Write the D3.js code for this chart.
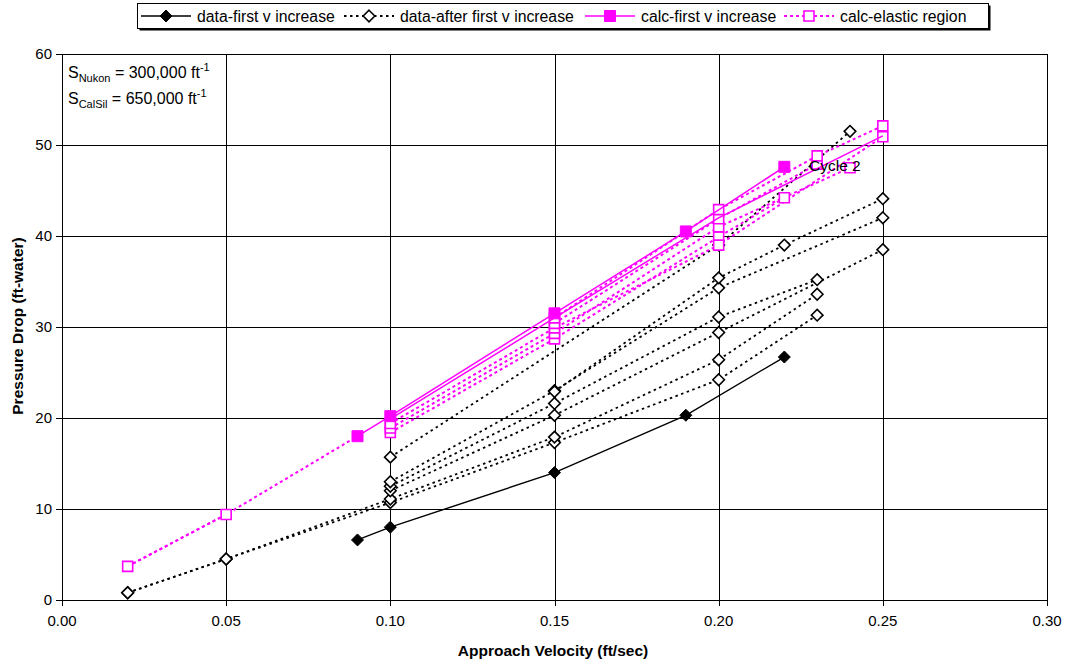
<!DOCTYPE html>
<html>
<head>
<meta charset="utf-8">
<script src="https://cdn.jsdelivr.net/npm/d3@7"></script>
<style>
  body { margin: 0; background: #fff; }
  svg text { font-family: "Liberation Sans", Arial, sans-serif; fill: #000; }
  .grid line { stroke: #000; stroke-width: 1; shape-rendering: crispEdges; }
  .tick-label { font-size: 15px; }
  .axis-title { font-size: 15.5px; font-weight: bold; }
  .legend-text { font-size: 15.8px; }
</style>
</head>
<body>
<svg id="chart" width="1067" height="666"></svg>
<script>
// axis ticks
var xTicks = [0, 0.05, 0.10, 0.15, 0.20, 0.25, 0.30];
var yTicks = [0, 10, 20, 30, 40, 50, 60];

// data-first v increase
var dataFirst = [[0.09, 6.6], [0.10, 8.0], [0.15, 14.0], [0.19, 20.3], [0.22, 26.7]];

// data-after first v increase (one entry per sweep)
var dataAfter = [
  [[0.02, 0.8], [0.05, 4.5], [0.10, 10.7], [0.15, 17.3], [0.20, 24.2], [0.23, 31.3]],
  [[0.02, 0.8], [0.05, 4.5], [0.10, 11.1], [0.15, 17.9], [0.20, 26.4], [0.23, 33.6]],
  [[0.10, 12.0], [0.15, 20.3], [0.20, 29.4], [0.25, 38.5]],
  [[0.10, 12.5], [0.15, 21.6], [0.20, 31.1], [0.23, 35.2]],
  [[0.10, 13.0], [0.15, 23.0], [0.20, 34.3], [0.25, 42.0]],
  [[0.15, 22.9], [0.20, 35.4], [0.22, 39.0], [0.25, 44.1]],
  [[0.10, 15.7], [0.20, 39.0], [0.24, 51.5]]
];

// calc-first v increase
var calcFirst = [[0.09, 18.0], [0.10, 20.2], [0.15, 31.5], [0.19, 40.5], [0.22, 47.6]];
// second calc line, drawn without markers
var calcFirstPlain = [[0.10, 19.9], [0.15, 31.0], [0.20, 42.0], [0.25, 51.0]];

// calc-elastic region
var calcElastic = [
  [[0.02, 3.7], [0.05, 9.4], [0.09, 18.0]],
  [[0.10, 18.4], [0.15, 28.7], [0.20, 39.9], [0.22, 44.2]],
  [[0.10, 18.9], [0.15, 29.3], [0.20, 41.0], [0.24, 47.5]],
  [[0.10, 19.4], [0.15, 29.9], [0.20, 39.0], [0.25, 50.9]],
  [[0.15, 30.4], [0.20, 41.9], [0.23, 47.9]],
  [[0.15, 31.0], [0.20, 42.9], [0.23, 48.8], [0.25, 52.1]]
];
var elasticExtra = [[0.02, 3.7], [0.05, 9.4]];

var legendItems = [
  {name: 'data-first v increase', color: '#000', dash: null, marker: 'diamond', fill: '#000', x: 141},
  {name: 'data-after first v increase', color: '#000', dash: '2.5,3.5', marker: 'diamond', fill: '#fff', x: 344},
  {name: 'calc-first v increase', color: '#ff00ff', dash: null, marker: 'square', fill: '#ff00ff', x: 585},
  {name: 'calc-elastic region', color: '#ff00ff', dash: '3,3', marker: 'square', fill: '#fff', x: 784}
];

var svg = d3.select('#chart');
var x = d3.scaleLinear().domain([0, 0.30]).range([62, 1047]);
var y = d3.scaleLinear().domain([0, 60]).range([600, 54]);

// grid
var grid = svg.append('g').attr('class', 'grid');
grid.selectAll('line.h').data(yTicks).enter().append('line')
  .attr('class', 'h')
  .attr('x1', x(0) - 6).attr('x2', x(0.30))
  .attr('y1', function(d) { return Math.round(y(d)) + 0.5; })
  .attr('y2', function(d) { return Math.round(y(d)) + 0.5; });
grid.selectAll('line.v').data(xTicks).enter().append('line')
  .attr('class', 'v')
  .attr('x1', function(d) { return Math.round(x(d)) + 0.5; })
  .attr('x2', function(d) { return Math.round(x(d)) + 0.5; })
  .attr('y1', y(60)).attr('y2', y(0) + 6);

// tick labels
svg.selectAll('text.ylab').data(yTicks).enter().append('text')
  .attr('class', 'tick-label')
  .attr('x', 52)
  .attr('y', function(d) { return y(d); })
  .attr('dy', '.35em')
  .attr('text-anchor', 'end')
  .text(function(d) { return d; });
svg.selectAll('text.xlab').data(xTicks).enter().append('text')
  .attr('class', 'tick-label')
  .attr('x', function(d) { return x(d); })
  .attr('y', 621)
  .attr('dy', '.35em')
  .attr('text-anchor', 'middle')
  .text(function(d) { return d3.format('.2f')(d); });

// axis titles
svg.append('text')
  .attr('class', 'axis-title')
  .attr('x', 553).attr('y', 651).attr('dy', '.35em')
  .attr('text-anchor', 'middle')
  .text('Approach Velocity (ft/sec)');
svg.append('text')
  .attr('class', 'axis-title')
  .attr('transform', 'translate(18,326) rotate(-90)')
  .attr('dy', '.35em')
  .attr('text-anchor', 'middle')
  .text('Pressure Drop (ft-water)');

var line = d3.line()
  .x(function(d) { return x(d[0]); })
  .y(function(d) { return y(d[1]); });

var diamond = function(s) {
  return 'M0,' + (-s) + 'L' + s + ',0L0,' + s + 'L' + (-s) + ',0Z';
};
var square = function(s) {
  return 'M' + (-s) + ',' + (-s) + 'h' + (2 * s) + 'v' + (2 * s) + 'h' + (-2 * s) + 'Z';
};
var markerPath = function(kind, fill) {
  if (kind === 'diamond') {
    return diamond(fill === '#000' ? 6 : 5.8);
  }
  return square(fill === '#fff' ? 5 : 5.5);
};

var drawMarkers = function(pts, kind, fill, stroke) {
  svg.append('g').selectAll('path').data(pts).enter().append('path')
    .attr('transform', function(d) { return 'translate(' + x(d[0]) + ',' + y(d[1]) + ')'; })
    .attr('d', markerPath(kind, fill))
    .attr('fill', fill)
    .attr('stroke', stroke)
    .attr('stroke-width', fill === '#fff' ? 1.6 : 1);
};

// black dotted sweeps
dataAfter.forEach(function(s) {
  svg.append('path').datum(s)
    .attr('d', line)
    .attr('fill', 'none')
    .attr('stroke', '#000')
    .attr('stroke-width', 1.8)
    .attr('stroke-dasharray', '2.5,3.5');
});
dataAfter.forEach(function(s) {
  drawMarkers(s, 'diamond', '#fff', '#000');
});

// black solid
svg.append('path').datum(dataFirst)
  .attr('d', line)
  .attr('fill', 'none')
  .attr('stroke', '#000')
  .attr('stroke-width', 1.4);
drawMarkers(dataFirst, 'diamond', '#000', '#000');

// magenta dotted
calcElastic.concat([elasticExtra]).forEach(function(s) {
  svg.append('path').datum(s)
    .attr('d', line)
    .attr('fill', 'none')
    .attr('stroke', '#ff00ff')
    .attr('stroke-width', 2)
    .attr('stroke-dasharray', '3,3');
});
calcElastic.forEach(function(s) {
  drawMarkers(s.filter(function(d) { return d[0] !== 0.09; }), 'square', '#fff', '#ff00ff');
});

// magenta solid
[calcFirst, calcFirstPlain].forEach(function(s) {
  svg.append('path').datum(s)
    .attr('d', line)
    .attr('fill', 'none')
    .attr('stroke', '#ff00ff')
    .attr('stroke-width', 1.5);
});
drawMarkers(calcFirst, 'square', '#ff00ff', '#ff00ff');

// annotations
var note = svg.append('g');
var n1 = note.append('text').attr('x', 68).attr('y', 78).style('font-size', '16px');
n1.append('tspan').text('S');
n1.append('tspan').attr('dy', 4).style('font-size', '11px').text('Nukon');
n1.append('tspan').attr('dy', -4).text(' = 300,000 ft');
n1.append('tspan').attr('dy', -7).style('font-size', '11px').text('-1');
var n2 = note.append('text').attr('x', 68).attr('y', 104).style('font-size', '16px');
n2.append('tspan').text('S');
n2.append('tspan').attr('dy', 4).style('font-size', '11px').text('CalSil');
n2.append('tspan').attr('dy', -4).text(' = 650,000 ft');
n2.append('tspan').attr('dy', -7).style('font-size', '11px').text('-1');

svg.append('text')
  .attr('x', 809).attr('y', 171)
  .style('font-size', '15.5px')
  .text('Cycle 2');

// legend
var legend = svg.append('g');
legend.append('rect')
  .attr('x', 139.5).attr('y', 5.5).attr('width', 851).attr('height', 25)
  .attr('fill', '#000');
legend.append('rect')
  .attr('x', 137.5).attr('y', 3.5).attr('width', 851).attr('height', 25)
  .attr('fill', '#fff').attr('stroke', '#000');
legendItems.forEach(function(it) {
  var g = legend.append('g').attr('transform', 'translate(' + it.x + ',16)');
  g.append('line')
    .attr('x1', 0).attr('x2', 50)
    .attr('stroke', it.color)
    .attr('stroke-width', it.dash ? 1.8 : 1.5)
    .attr('stroke-dasharray', it.dash);
  g.append('path')
    .attr('transform', 'translate(25,0)')
    .attr('d', markerPath(it.marker, it.fill))
    .attr('fill', it.fill)
    .attr('stroke', it.color)
    .attr('stroke-width', it.fill === '#fff' ? 1.6 : 1);
  g.append('text')
    .attr('class', 'legend-text')
    .attr('x', 56).attr('dy', '.35em')
    .text(it.name);
});
</script>
</body>
</html>
